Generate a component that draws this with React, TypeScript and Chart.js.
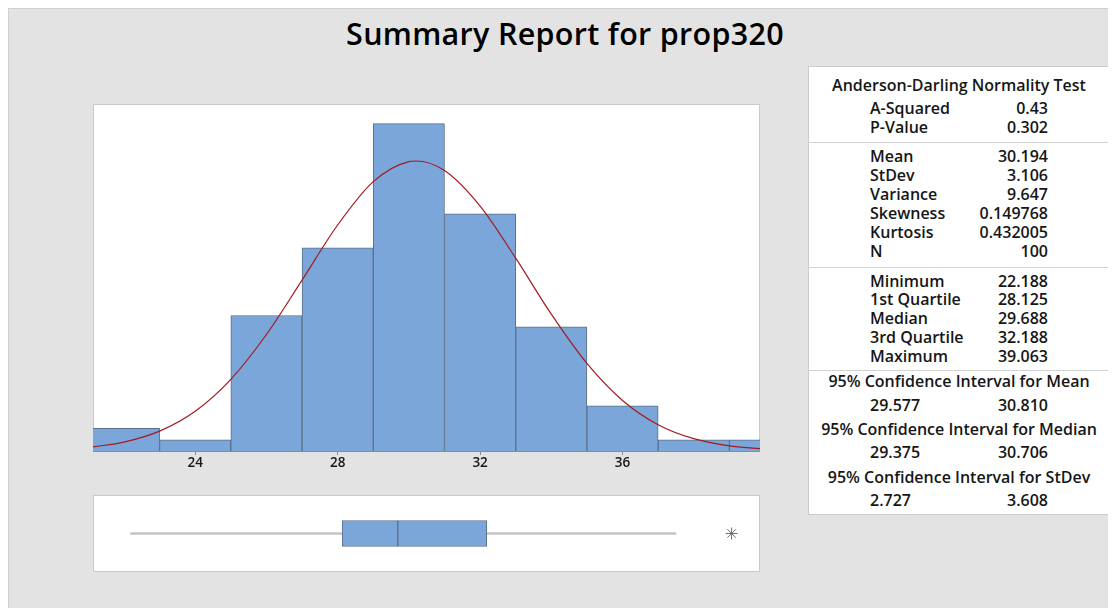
import React, { useEffect, useRef } from "react";
import { Chart, registerables } from "chart.js";

Chart.register(...registerables);

// ---------- data ----------
const titleText = "Summary Report for prop320";
const binCenters = [22, 24, 26, 28, 30, 32, 34, 36, 38, 40];
const binCounts = [2, 1, 12, 18, 29, 21, 11, 4, 1, 1];
const curveX = [21.13, 22, 23, 24, 25, 26, 27, 28, 29, 30, 30.2, 31, 32, 33, 34, 35, 36, 37, 38, 39, 39.86];
const curveY = [0.36, 0.79, 1.76, 3.52, 6.35, 10.32, 15.14, 20.02, 23.86, 25.64, 25.69, 24.84, 21.69, 17.08, 12.12, 7.76, 4.48, 2.33, 1.09, 0.46, 0.21];
const xTicks = [24, 28, 32, 36];
const xMin = 21.13;
const xMax = 39.86;
const yMax = 30.74;

const boxLabel = "prop320";
const whiskerLow = 22.188;
const boxQ1 = 28.125;
const boxMedian = 29.688;
const boxQ3 = 32.188;
const whiskerHigh = 37.5;
const outliers = [39.063];

const adTitle = "Anderson-Darling Normality Test";
const adLabels = ["A-Squared", "P-Value"];
const adValues = ["0.43", "0.302"];
const descLabels = ["Mean", "StDev", "Variance", "Skewness", "Kurtosis", "N"];
const descValues = ["30.194", "3.106", "9.647", "0.149768", "0.432005", "100"];
const quantLabels = ["Minimum", "1st Quartile", "Median", "3rd Quartile", "Maximum"];
const quantValues = ["22.188", "28.125", "29.688", "32.188", "39.063"];
const ciTitles = [
  "95% Confidence Interval for Mean",
  "95% Confidence Interval for Median",
  "95% Confidence Interval for StDev",
];
const ciLow = ["29.577", "29.375", "2.727"];
const ciHigh = ["30.810", "30.706", "3.608"];

// ---------- styles ----------
const OX = 9;
const OY = 9;
const FONT = "'Open Sans', 'Noto Sans', sans-serif";
const BAR_FILL = "#7ba6d9";
const BAR_EDGE = "#5d6f85";
const CURVE = "#a31a20";
const TEXT = "#161616";

function Histogram() {
  const ref = useRef<HTMLCanvasElement>(null);
  useEffect(() => {
    const chart = new Chart(ref.current as HTMLCanvasElement, {
      type: "bar",
      data: {
        datasets: [
          {
            type: "line",
            data: curveX.map((x, i) => ({ x, y: curveY[i] })),
            borderColor: CURVE,
            borderWidth: 1.2,
            pointRadius: 0,
            cubicInterpolationMode: "monotone",
            fill: false,
            order: 0,
          } as any,
          {
            type: "bar",
            data: binCenters.map((x, i) => ({ x, y: binCounts[i] })),
            backgroundColor: BAR_FILL,
            borderColor: BAR_EDGE,
            borderWidth: 1,
            barPercentage: 1,
            categoryPercentage: 1,
            order: 1,
          } as any,
        ],
      },
      options: {
        animation: false,
        responsive: false,
        maintainAspectRatio: false,
        layout: { padding: 0, autoPadding: false },
        plugins: { legend: { display: false }, tooltip: { enabled: false } },
        scales: {
          x: {
            type: "linear",
            min: xMin,
            max: xMax,
            offset: false,
            afterBuildTicks: (s: any) => {
              s.ticks = xTicks.map((v) => ({ value: v }));
            },
            afterFit: (s: any) => {
              s.height = 22;
            },
            grid: { offset: false, drawOnChartArea: false, drawTicks: true, tickLength: 4, color: "#8c8c8c" },
            border: { display: true, color: "#8c8c8c" },
            ticks: {
              padding: 0,
              color: TEXT,
              autoSkip: false,
              maxRotation: 0,
              font: { family: FONT, size: 13.5, weight: "600" },
            },
          } as any,
          y: { display: false, min: 0, max: yMax },
        },
      },
    });
    return () => chart.destroy();
  }, []);
  return (
    <canvas
      ref={ref}
      width={667}
      height={369}
      style={{ position: "absolute", left: 93 - OX, top: 104 - OY, width: 667, height: 369 }}
    />
  );
}

function BoxPlot() {
  const ref = useRef<HTMLCanvasElement>(null);
  useEffect(() => {
    const common = { indexAxis: "y", grouped: false, borderSkipped: false };
    const chart = new Chart(ref.current as HTMLCanvasElement, {
      type: "bar",
      data: {
        labels: [boxLabel],
        datasets: [
          {
            type: "scatter",
            data: outliers.map((x) => ({ x, y: boxLabel })),
            pointStyle: "star",
            pointRadius: 6,
            borderColor: "#6f6f6f",
            borderWidth: 1,
            backgroundColor: "#6f6f6f",
          } as any,
          {
            ...common,
            data: [[boxQ1, boxMedian]],
            backgroundColor: BAR_FILL,
            borderColor: BAR_EDGE,
            borderWidth: 1,
            barThickness: 26,
          } as any,
          {
            ...common,
            data: [[boxMedian, boxQ3]],
            backgroundColor: BAR_FILL,
            borderColor: BAR_EDGE,
            borderWidth: 1,
            barThickness: 26,
          } as any,
          {
            ...common,
            data: [[whiskerLow, boxQ1]],
            backgroundColor: "#c4c4c4",
            borderWidth: 0,
            barThickness: 2,
          } as any,
          {
            ...common,
            data: [[boxQ3, whiskerHigh]],
            backgroundColor: "#c4c4c4",
            borderWidth: 0,
            barThickness: 2,
          } as any,
        ],
      },
      options: {
        animation: false,
        responsive: false,
        maintainAspectRatio: false,
        layout: { padding: 0, autoPadding: false },
        plugins: { legend: { display: false }, tooltip: { enabled: false } },
        scales: {
          x: { type: "linear", min: xMin, max: xMax, display: false, offset: false },
          y: { type: "category", display: false },
        },
      },
    });
    return () => chart.destroy();
  }, []);
  return (
    <canvas
      ref={ref}
      width={667}
      height={75}
      style={{ position: "absolute", left: 93 - OX, top: 496 - OY, width: 667, height: 75 }}
    />
  );
}

function StatsTable() {
  const T = { left: 808, top: 66, width: 302, height: 449 };
  const rowH = 19;
  const labelLeft = 62;
  const valueRight = 62;
  const text: React.CSSProperties = {
    position: "absolute",
    height: rowH,
    lineHeight: rowH + "px",
    whiteSpace: "nowrap",
    fontFamily: FONT,
    fontWeight: 600,
    fontSize: 16,
    color: TEXT,
  };
  const items: React.ReactNode[] = [];
  let k = 0;
  const centered = (s: string, cy: number) =>
    items.push(
      <div key={k++} style={{ ...text, left: 0, width: T.width, textAlign: "center", top: cy - T.top - rowH / 2 }}>
        {s}
      </div>
    );
  const pair = (a: string, b: string, cy: number) => {
    items.push(
      <div key={k++} style={{ ...text, left: labelLeft, top: cy - T.top - rowH / 2 }}>
        {a}
      </div>
    );
    items.push(
      <div key={k++} style={{ ...text, right: valueRight, top: cy - T.top - rowH / 2 }}>
        {b}
      </div>
    );
  };
  const line = (y: number) =>
    items.push(
      <div
        key={k++}
        style={{ position: "absolute", left: 0, right: 0, top: y - T.top, height: 1, background: "#d2d2d2" }}
      />
    );

  centered(adTitle, 85);
  adLabels.forEach((l, i) => pair(l, adValues[i], 108.5 + i * 19.2));
  line(142);
  descLabels.forEach((l, i) => pair(l, descValues[i], 156.2 + i * 19.1));
  line(267);
  quantLabels.forEach((l, i) => pair(l, quantValues[i], 281 + i * 18.9));
  line(370);
  ciTitles.forEach((t, i) => {
    centered(t, 381 + i * 48);
    pair(ciLow[i], ciHigh[i], 405 + i * 47.7);
  });

  return (
    <div
      style={{
        position: "absolute",
        left: T.left - OX,
        top: T.top - OY,
        width: T.width,
        height: T.height,
        boxSizing: "border-box",
        background: "#ffffff",
        border: "1px solid #cbcbcb",
      }}
    >
      <div style={{ position: "absolute", left: -1, top: -1, width: T.width, height: T.height }}>{items}</div>
    </div>
  );
}

export default function App() {
  return (
    <div
      style={{
        position: "relative",
        width: 1108,
        height: 600,
        boxSizing: "border-box",
        background: "#e3e3e3",
        borderTop: "1px solid #cfcfcf",
        borderLeft: "1px solid #cfcfcf",
        overflow: "hidden",
      }}
    >
      <div
        style={{
          position: "absolute",
          left: 565 - OX - 350,
          width: 700,
          top: 13 - OY,
          height: 40,
          lineHeight: "40px",
          textAlign: "center",
          fontFamily: FONT,
          fontWeight: 600,
          fontSize: 30.5,
          letterSpacing: 0.3,
          color: "#000",
          whiteSpace: "nowrap",
        }}
      >
        {titleText}
      </div>
      <div
        style={{
          position: "absolute",
          left: 93 - OX,
          top: 104 - OY,
          width: 667,
          height: 348,
          boxSizing: "border-box",
          background: "#fff",
          border: "1px solid #cacaca",
        }}
      />
      <Histogram />
      <div
        style={{
          position: "absolute",
          left: 93 - OX,
          top: 495 - OY,
          width: 667,
          height: 77,
          boxSizing: "border-box",
          background: "#fff",
          border: "1px solid #cacaca",
        }}
      />
      <BoxPlot />
      <StatsTable />
    </div>
  );
}
